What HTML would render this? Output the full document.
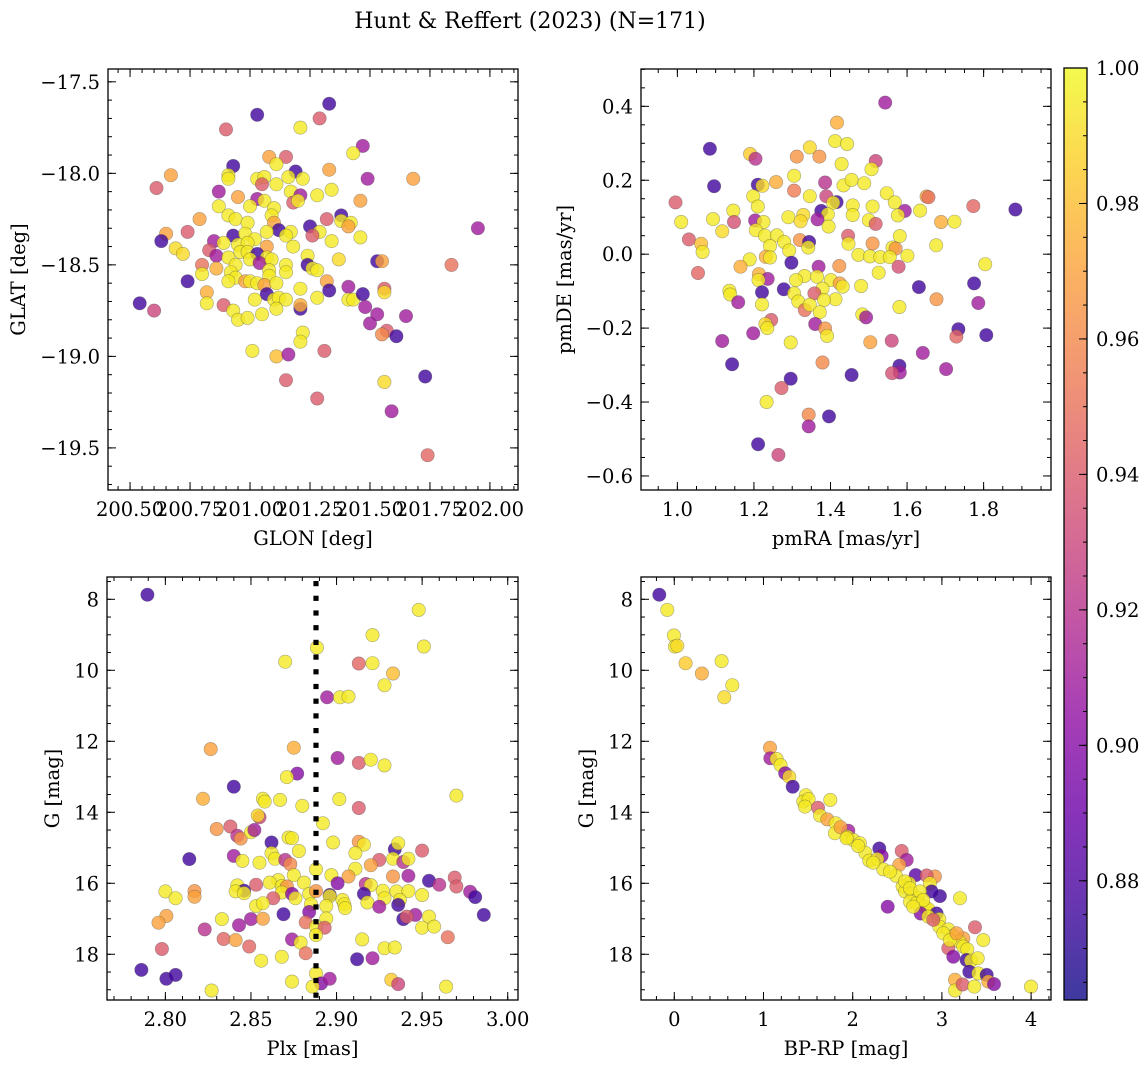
<!DOCTYPE html>
<html><head><meta charset="utf-8"><title>Hunt & Reffert (2023)</title>
<style>
html,body{margin:0;padding:0;background:#fff;}
svg{display:block;font-family:"DejaVu Serif","Liberation Serif",serif;}
</style></head>
<body>
<svg id="fig" width="1148" height="1067" viewBox="0 0 1148 1067" xmlns="http://www.w3.org/2000/svg">
<defs>
<linearGradient id="plasma" x1="0" y1="1" x2="0" y2="0">
<stop offset="0" stop-color="#0d0887"/><stop offset="0.1" stop-color="#41049d"/><stop offset="0.2" stop-color="#6a00a8"/><stop offset="0.3" stop-color="#8f0da4"/><stop offset="0.4" stop-color="#b12a90"/><stop offset="0.5" stop-color="#cc4778"/><stop offset="0.6" stop-color="#e16462"/><stop offset="0.7" stop-color="#f2844b"/><stop offset="0.8" stop-color="#fca636"/><stop offset="0.9" stop-color="#fcce25"/><stop offset="1" stop-color="#f0f921"/>
</linearGradient>
</defs>
<text x="530" y="28" text-anchor="middle" font-size="22">Hunt &amp; Reffert (2023) (N=171)</text>
</svg>
<script>
// ---- data ----
const tlGlon=[201.33,201.03,201.29,200.90,201.21,201.47,201.43,201.08,201.15,201.11,200.93,201.33,200.67,201.19,200.91,200.91,201.03,201.06,201.16,201.22,201.49,201.68,200.61,200.87,201.05,201.11,201.34,201.17,200.95,201.28,201.21,201.46,201.03,200.87,201.00,201.06,201.10,201.18,201.20,200.91,200.79,201.32,201.38,200.94,201.09,201.10,201.38,201.42,201.41,200.99,201.25,201.95,200.74,200.65,200.63,200.93,200.98,201.12,201.17,201.29,201.26,201.46,200.85,201.07,201.02,201.15,201.34,200.89,200.69,200.72,200.83,200.86,200.95,200.99,201.07,201.18,200.96,200.99,201.03,201.07,201.24,201.37,201.53,201.55,201.84,200.80,200.86,200.91,200.94,201.00,201.04,201.09,201.15,201.24,201.26,201.28,200.80,200.92,200.94,201.08,201.08,201.15,200.98,201.00,201.03,201.06,201.11,201.32,200.91,200.74,200.82,200.82,201.33,201.41,201.56,201.56,201.21,201.07,201.02,201.10,201.12,201.15,201.28,201.41,201.43,201.47,200.54,200.60,200.89,201.21,201.21,201.48,200.93,200.95,200.99,201.05,201.11,201.53,201.65,201.50,201.57,201.55,201.61,201.22,201.21,201.01,201.31,201.11,201.16,201.15,201.56,201.73,201.28,201.59,201.74];
const tlGlat=[-17.62,-17.68,-17.70,-17.76,-17.75,-17.85,-17.89,-17.91,-17.91,-17.95,-17.96,-17.98,-18.01,-17.99,-18.01,-18.03,-18.03,-18.02,-18.02,-18.03,-18.03,-18.03,-18.08,-18.10,-18.06,-18.06,-18.09,-18.10,-18.13,-18.12,-18.12,-18.15,-18.14,-18.18,-18.18,-18.15,-18.19,-18.16,-18.15,-18.23,-18.25,-18.25,-18.23,-18.25,-18.23,-18.27,-18.26,-18.27,-18.29,-18.27,-18.29,-18.30,-18.32,-18.33,-18.37,-18.34,-18.33,-18.31,-18.32,-18.32,-18.34,-18.35,-18.37,-18.32,-18.36,-18.34,-18.37,-18.38,-18.41,-18.44,-18.42,-18.45,-18.39,-18.38,-18.40,-18.40,-18.43,-18.43,-18.44,-18.46,-18.45,-18.47,-18.48,-18.48,-18.50,-18.50,-18.52,-18.46,-18.50,-18.47,-18.49,-18.47,-18.50,-18.50,-18.52,-18.53,-18.55,-18.54,-18.57,-18.53,-18.56,-18.54,-18.59,-18.59,-18.60,-18.61,-18.60,-18.59,-18.59,-18.59,-18.65,-18.71,-18.64,-18.62,-18.63,-18.65,-18.63,-18.66,-18.69,-18.69,-18.68,-18.69,-18.68,-18.69,-18.69,-18.66,-18.71,-18.75,-18.72,-18.74,-18.72,-18.73,-18.75,-18.80,-18.79,-18.77,-18.74,-18.77,-18.78,-18.82,-18.86,-18.88,-18.89,-18.87,-18.92,-18.97,-18.97,-19.00,-18.99,-19.13,-19.14,-19.11,-19.23,-19.30,-19.54];
const tlProb=[0.876,0.876,0.94,0.94,0.995,0.91,0.995,0.97,0.94,0.995,0.876,0.97,0.97,0.876,0.995,0.995,0.995,0.995,0.995,0.995,0.91,0.97,0.94,0.91,0.94,0.995,0.995,0.995,0.97,0.995,0.91,0.97,0.91,0.995,0.995,0.995,0.995,0.94,0.995,0.995,0.97,0.94,0.876,0.995,0.995,0.97,0.995,0.995,0.97,0.995,0.876,0.91,0.94,0.97,0.876,0.876,0.995,0.876,0.995,0.995,0.94,0.995,0.91,0.995,0.995,0.995,0.995,0.995,0.99,0.99,0.94,0.91,0.995,0.995,0.97,0.995,0.995,0.995,0.876,0.995,0.995,0.99,0.876,0.97,0.95,0.95,0.975,0.995,0.995,0.995,0.91,0.995,0.995,0.876,0.995,0.995,0.995,0.995,0.995,0.995,0.995,0.995,0.97,0.995,0.995,0.97,0.995,0.97,0.995,0.876,0.975,0.995,0.876,0.91,0.94,0.99,0.995,0.876,0.995,0.995,0.995,0.995,0.995,0.995,0.995,0.876,0.876,0.93,0.94,0.876,0.975,0.91,0.995,0.995,0.995,0.995,0.995,0.91,0.91,0.91,0.94,0.96,0.876,0.995,0.995,0.995,0.94,0.98,0.91,0.94,0.99,0.876,0.94,0.91,0.945];
const trPmra=[1.543,1.417,1.085,1.190,1.204,1.412,1.443,1.346,1.312,1.371,1.429,1.518,1.507,1.305,1.258,1.210,1.222,1.096,1.386,1.434,1.455,1.488,1.305,1.547,1.198,1.346,1.389,1.651,1.656,0.995,1.416,1.407,1.568,1.773,1.883,1.210,1.458,1.510,1.146,1.376,1.594,1.634,1.329,1.393,1.458,1.576,1.093,1.290,1.366,1.010,1.148,1.203,1.225,1.322,1.395,1.500,1.518,1.689,1.724,1.117,1.205,1.229,1.260,1.446,1.581,1.030,1.320,1.344,1.279,1.447,1.562,1.510,1.676,1.062,1.066,1.242,1.342,1.570,1.292,1.473,1.503,1.530,1.555,1.601,1.231,1.242,1.189,1.298,1.804,1.165,1.423,1.369,1.578,1.054,1.526,1.213,1.332,1.365,1.236,1.212,1.310,1.401,1.424,1.775,1.631,1.432,1.379,1.278,1.136,1.480,1.221,1.305,1.358,1.413,1.138,1.383,1.316,1.677,1.159,1.786,1.333,1.346,1.221,1.580,1.372,1.483,1.493,1.245,1.230,1.235,1.360,1.386,1.391,1.734,1.729,1.807,1.198,1.117,1.296,1.504,1.560,1.641,1.143,1.379,1.580,1.581,1.561,1.702,1.455,1.296,1.272,1.233,1.343,1.396,1.343,1.211,1.264];
const trPmde=[0.410,0.356,0.285,0.271,0.258,0.306,0.298,0.289,0.264,0.264,0.244,0.252,0.230,0.212,0.195,0.188,0.185,0.184,0.194,0.186,0.201,0.192,0.172,0.165,0.157,0.157,0.157,0.156,0.154,0.140,0.141,0.139,0.140,0.130,0.121,0.129,0.132,0.129,0.118,0.117,0.117,0.118,0.106,0.108,0.106,0.105,0.095,0.100,0.094,0.087,0.087,0.091,0.087,0.089,0.075,0.092,0.082,0.087,0.088,0.062,0.065,0.050,0.051,0.050,0.049,0.040,0.038,0.033,0.033,0.028,0.018,0.029,0.024,0.028,0.006,0.022,0.018,0.015,0.010,-0.002,-0.006,-0.008,-0.008,-0.004,-0.007,-0.009,-0.014,-0.023,-0.027,-0.034,-0.032,-0.034,-0.034,-0.051,-0.050,-0.054,-0.059,-0.061,-0.067,-0.070,-0.070,-0.070,-0.079,-0.079,-0.089,-0.088,-0.093,-0.095,-0.099,-0.086,-0.103,-0.106,-0.106,-0.122,-0.109,-0.124,-0.128,-0.122,-0.130,-0.132,-0.151,-0.137,-0.136,-0.143,-0.157,-0.163,-0.171,-0.178,-0.189,-0.200,-0.189,-0.201,-0.221,-0.203,-0.223,-0.219,-0.214,-0.235,-0.239,-0.238,-0.234,-0.267,-0.298,-0.293,-0.302,-0.320,-0.322,-0.311,-0.327,-0.337,-0.362,-0.400,-0.434,-0.439,-0.466,-0.514,-0.543];
const trProb=[0.91,0.975,0.876,0.985,0.92,0.995,0.995,0.99,0.965,0.965,0.995,0.93,0.995,0.995,0.975,0.876,0.99,0.876,0.92,0.995,0.995,0.995,0.955,0.995,0.995,0.995,0.93,0.97,0.95,0.94,0.876,0.995,0.995,0.945,0.876,0.995,0.995,0.995,0.995,0.876,0.91,0.995,0.99,0.995,0.995,0.995,0.995,0.995,0.91,0.995,0.935,0.91,0.995,0.99,0.995,0.995,0.94,0.975,0.995,0.99,0.995,0.995,0.995,0.94,0.995,0.94,0.965,0.876,0.995,0.995,0.995,0.965,0.995,0.98,0.995,0.995,0.995,0.965,0.995,0.995,0.995,0.995,0.995,0.995,0.975,0.995,0.995,0.876,0.995,0.975,0.965,0.91,0.935,0.945,0.995,0.975,0.995,0.995,0.91,0.995,0.995,0.995,0.97,0.876,0.876,0.995,0.995,0.876,0.995,0.995,0.876,0.995,0.94,0.995,0.995,0.995,0.995,0.965,0.91,0.91,0.95,0.995,0.995,0.995,0.995,0.995,0.91,0.94,0.99,0.995,0.91,0.965,0.995,0.876,0.945,0.876,0.91,0.91,0.995,0.97,0.93,0.91,0.876,0.96,0.876,0.91,0.935,0.91,0.876,0.876,0.94,0.995,0.96,0.876,0.91,0.876,0.93];
const blPlx=[2.7895,2.948,2.921,2.8885,2.951,2.870,2.913,2.921,2.933,2.928,2.8945,2.902,2.907,2.8265,2.875,2.9006,2.913,2.920,2.928,2.877,2.871,2.840,2.970,2.822,2.857,2.858,2.867,2.9016,2.880,2.913,2.855,2.854,2.892,2.830,2.838,2.842,2.844,2.850,2.852,2.872,2.874,2.862,2.898,2.913,2.916,2.934,2.936,2.950,2.878,2.814,2.840,2.845,2.862,2.864,2.870,2.855,2.873,2.888,2.911,2.925,2.933,2.939,2.942,2.911,2.920,2.875,2.907,2.897,2.933,2.942,2.866,2.881,2.861,2.9006,2.954,2.969,2.960,2.970,2.917,2.920,2.853,2.842,2.846,2.841,2.846,2.868,2.871,2.800,2.817,2.817,2.806,2.868,2.874,2.876,2.884,2.888,2.896,2.896,2.916,2.927,2.928,2.935,2.942,2.937,2.950,2.978,2.981,2.9035,2.9045,2.905,2.863,2.853,2.857,2.885,2.894,2.918,2.925,2.936,2.986,2.869,2.884,2.946,2.939,2.941,2.954,2.8006,2.796,2.833,2.850,2.857,2.894,2.843,2.882,2.888,2.893,2.823,2.950,2.957,2.834,2.841,2.874,2.879,2.888,2.915,2.965,2.798,2.849,2.882,2.928,2.934,2.868,2.856,2.912,2.921,2.786,2.8006,2.806,2.888,2.874,2.891,2.896,2.886,2.932,2.936,2.964,2.827];
const blG=[7.87,8.30,9.01,9.36,9.33,9.76,9.81,9.80,10.09,10.42,10.76,10.76,10.74,12.22,12.18,12.47,12.61,12.52,12.68,12.91,13.01,13.28,13.53,13.62,13.62,13.70,13.65,13.63,13.82,13.88,14.14,14.09,14.31,14.47,14.40,14.66,14.74,14.56,14.50,14.71,14.73,14.85,14.85,14.83,14.91,15.04,14.87,15.08,15.09,15.32,15.23,15.37,15.15,15.31,15.34,15.42,15.46,15.61,15.15,15.34,15.31,15.40,15.31,15.59,15.49,15.77,15.81,15.77,15.81,15.79,15.91,15.98,15.98,16.00,15.93,15.84,16.04,16.09,16.02,16.05,16.04,16.06,16.21,16.23,16.28,16.08,16.09,16.23,16.22,16.38,16.42,16.26,16.30,16.42,16.30,16.22,16.33,16.36,16.30,16.21,16.42,16.23,16.22,16.47,16.33,16.24,16.39,16.47,16.59,16.70,16.42,16.64,16.56,16.59,16.64,16.54,16.66,16.61,16.89,16.87,16.81,16.89,17.01,16.94,16.94,16.92,17.11,17.01,17.01,17.00,16.99,17.18,17.10,17.22,17.25,17.30,17.25,17.22,17.57,17.60,17.58,17.67,17.46,17.58,17.52,17.85,17.78,17.97,17.83,17.81,18.07,18.18,18.14,18.11,18.44,18.69,18.58,18.54,18.77,18.82,18.69,18.91,18.72,18.84,18.91,19.02];
const blProb=[0.876,0.995,0.995,0.995,0.995,0.995,0.945,0.995,0.98,0.995,0.91,0.995,0.995,0.97,0.975,0.91,0.94,0.995,0.995,0.9,0.995,0.876,0.995,0.975,0.995,0.995,0.995,0.995,0.995,0.94,0.93,0.99,0.995,0.965,0.94,0.92,0.965,0.995,0.91,0.995,0.995,0.876,0.995,0.965,0.995,0.876,0.995,0.94,0.995,0.876,0.91,0.995,0.995,0.995,0.92,0.995,0.96,0.995,0.995,0.94,0.995,0.92,0.995,0.995,0.97,0.995,0.97,0.995,0.965,0.91,0.995,0.995,0.995,0.9,0.876,0.94,0.92,0.94,0.92,0.995,0.94,0.995,0.876,0.995,0.995,0.995,0.965,0.995,0.965,0.97,0.995,0.995,0.9,0.995,0.995,0.965,0.876,0.995,0.876,0.995,0.995,0.995,0.995,0.995,0.995,0.91,0.876,0.995,0.995,0.995,0.94,0.995,0.995,0.995,0.995,0.995,0.91,0.876,0.876,0.876,0.9,0.91,0.876,0.94,0.995,0.97,0.97,0.995,0.91,0.97,0.995,0.91,0.95,0.995,0.94,0.92,0.995,0.995,0.945,0.97,0.91,0.995,0.995,0.995,0.95,0.94,0.945,0.95,0.995,0.995,0.995,0.995,0.876,0.91,0.876,0.876,0.876,0.995,0.995,0.9,0.91,0.995,0.985,0.93,0.995,0.995];
const brBprp=[-0.168,-0.078,-0.004,0.007,0.034,0.127,0.310,0.531,0.650,0.561,1.073,1.076,1.147,1.192,1.244,1.289,1.327,1.476,1.446,1.506,1.465,1.749,1.611,1.633,1.715,1.809,1.801,1.951,1.865,1.943,2.007,2.081,2.141,2.298,2.324,2.186,2.276,2.343,2.549,2.605,2.522,2.485,2.706,2.922,2.829,2.866,2.634,2.560,2.978,3.203,2.392,2.586,2.672,2.735,2.642,2.717,2.810,2.885,2.848,2.762,2.941,2.848,2.971,2.971,3.072,3.371,3.128,3.240,3.195,3.464,3.072,3.128,3.240,3.285,3.277,3.326,3.401,3.307,3.408,3.502,3.520,3.584,3.147,3.147,3.232,3.363,3.999,2.418,2.586,2.642,2.754,2.791,2.679,3.016,3.090,3.165,2.231,2.062,1.932,2.904];
const brG=[7.87,8.30,9.02,9.33,9.31,9.80,10.09,9.74,10.42,10.76,12.18,12.48,12.50,12.67,12.90,13.00,13.28,13.52,13.70,13.63,13.84,13.65,13.87,14.09,14.20,14.31,14.59,14.52,14.42,14.69,14.78,14.87,15.14,15.02,15.23,15.36,15.32,15.61,15.09,15.34,15.48,15.79,15.77,15.81,15.78,16.00,16.00,16.09,16.36,16.42,16.66,16.23,16.30,16.42,16.52,16.56,16.66,16.23,16.73,16.85,16.85,16.94,17.01,17.22,17.30,17.24,17.48,17.55,17.64,17.60,17.83,18.07,17.78,17.86,18.16,18.18,18.11,18.49,18.54,18.58,18.77,18.84,18.72,19.02,18.85,18.91,18.91,15.67,15.95,16.14,16.23,16.47,16.66,17.41,17.60,17.41,15.42,14.95,14.73,17.03];
const brProb=[0.876,0.995,0.995,0.995,0.99,0.985,0.975,0.995,0.995,0.99,0.97,0.91,0.995,0.995,0.9,0.99,0.876,0.995,0.995,0.995,0.995,0.995,0.94,0.995,0.97,0.995,0.995,0.91,0.97,0.995,0.995,0.995,0.995,0.876,0.9,0.995,0.995,0.995,0.94,0.91,0.97,0.995,0.885,0.965,0.94,0.995,0.995,0.995,0.876,0.995,0.9,0.995,0.995,0.995,0.995,0.995,0.995,0.876,0.995,0.9,0.876,0.995,0.995,0.995,0.995,0.94,0.995,0.97,0.995,0.995,0.94,0.9,0.995,0.995,0.876,0.995,0.995,0.876,0.995,0.876,0.975,0.9,0.975,0.995,0.94,0.995,0.995,0.995,0.995,0.995,0.995,0.995,0.995,0.995,0.995,0.97,0.995,0.995,0.995,0.94];
const plxLine=[2.888];
const tlXTicks=[200.50,200.75,201.00,201.25,201.50,201.75,202.00];
const tlYTicks=[-17.5,-18.0,-18.5,-19.0,-19.5];
const trXTicks=[1.0,1.2,1.4,1.6,1.8];
const trYTicks=[0.4,0.2,0.0,-0.2,-0.4,-0.6];
const blXTicks=[2.80,2.85,2.90,2.95,3.00];
const gTicks=[8,10,12,14,16,18];
const brXTicks=[0,1,2,3,4];
const cbTicks=[1.00,0.98,0.96,0.94,0.92,0.90,0.88];
const probMin=0.8624, probMax=1.0;

// ---- helpers ----
const NS="http://www.w3.org/2000/svg";
const svg=document.getElementById('fig');
const FS=19.5;
function mk(tag,attrs,parent){const e=document.createElementNS(NS,tag);for(const k in attrs)e.setAttribute(k,String(attrs[k]));(parent||svg).appendChild(e);return e;}
const stops=[[13,8,135],[65,4,157],[106,0,168],[143,13,164],[177,42,144],[204,71,120],[225,100,98],[242,132,75],[252,166,54],[252,206,37],[240,249,33]];
function plasma(p){let t=(p-probMin)/(probMax-probMin);t=Math.max(0,Math.min(1,t));const f=t*10,i=Math.min(9,Math.floor(f)),r=f-i;const a=stops[i],b=stops[i+1];return 'rgb('+[0,1,2].map(k=>Math.round(a[k]+(b[k]-a[k])*r)).join(',')+')';}
function fmt(v,d){const s=Math.abs(v).toFixed(d);return (v<0?'\u2212':'')+s;}
function minorRange(lo,hi,step){const out=[];const s=Math.ceil(lo/step-1e-9);for(let k=s;k*step<=hi+1e-9;k++)out.push(k*step);return out;}

function panel(cfg){
  const g=mk('g',{});
  
  
  const X=v=>cfg.x0+(v-cfg.xlim[0])/(cfg.xlim[1]-cfg.xlim[0])*(cfg.x1-cfg.x0);
  const Y=cfg.yinv? v=>cfg.y0+(v-cfg.ylim[0])/(cfg.ylim[1]-cfg.ylim[0])*(cfg.y1-cfg.y0)
                  : v=>cfg.y1-(v-cfg.ylim[0])/(cfg.ylim[1]-cfg.ylim[0])*(cfg.y1-cfg.y0);
  const pts=mk('g',{},g);
  
  
  for(let i=0;i<cfg.xs.length;i++){
    const c=mk('circle',{cx:X(cfg.xs[i]).toFixed(1),cy:Y(cfg.ys[i]).toFixed(1),r:6.7,fill:plasma(cfg.c[i]),'fill-opacity':0.8,stroke:'rgba(70,70,70,0.45)','stroke-width':0.6},pts);
    
    
  }
  if(cfg.vline){for(const v of cfg.vline){
    const lg=mk('g',{fill:'#000'},g);
    
    
    const xc=X(v);
    for(let y=cfg.y0+4;y<cfg.y1-1;y+=14.7){
      mk('rect',{x:(xc-2.6).toFixed(1),y:y.toFixed(1),width:5.2,height:Math.min(5.2,cfg.y1-y).toFixed(1)},lg);
    }
  }}
  const fr=mk('rect',{x:cfg.x0,y:cfg.y0,width:cfg.x1-cfg.x0,height:cfg.y1-cfg.y0,fill:'none',stroke:'#000','stroke-width':1.3},g);
  
  
  const tk=mk('g',{stroke:'#000','stroke-width':1},g);
  
  
  for(const v of minorRange(Math.min(...cfg.xlim),Math.max(...cfg.xlim),cfg.xminor)){const x=X(v);mk('line',{x1:x,x2:x,y1:cfg.y1,y2:cfg.y1-4},tk);mk('line',{x1:x,x2:x,y1:cfg.y0,y2:cfg.y0+4},tk);}
  for(const v of minorRange(Math.min(...cfg.ylim),Math.max(...cfg.ylim),cfg.yminor)){const y=Y(v);mk('line',{x1:cfg.x0,x2:cfg.x0+4,y1:y,y2:y},tk);mk('line',{x1:cfg.x1,x2:cfg.x1-4,y1:y,y2:y},tk);}
  for(const v of cfg.xt){const x=X(v);mk('line',{x1:x,x2:x,y1:cfg.y1,y2:cfg.y1-8},tk);mk('line',{x1:x,x2:x,y1:cfg.y0,y2:cfg.y0+8},tk);
    const t=mk('text',{x:x,y:cfg.y1+26,'text-anchor':'middle','font-size':FS},g);t.textContent=fmt(v,cfg.xd);
    
    }
  for(const v of cfg.yt){const y=Y(v);mk('line',{x1:cfg.x0,x2:cfg.x0+8,y1:y,y2:y},tk);mk('line',{x1:cfg.x1,x2:cfg.x1-8,y1:y,y2:y},tk);
    const t=mk('text',{x:cfg.x0-8,y:y+7,'text-anchor':'end','font-size':FS},g);t.textContent=fmt(v,cfg.yd);
    
    }
  const xl=mk('text',{x:(cfg.x0+cfg.x1)/2,y:cfg.y1+55,'text-anchor':'middle','font-size':FS},g);xl.textContent=cfg.xlabel;
  
  
  const yc=(cfg.y0+cfg.y1)/2;
  const yl=mk('text',{x:cfg.ylx,y:yc,'text-anchor':'middle','font-size':FS,transform:'rotate(-90 '+cfg.ylx+' '+yc+')'},g);yl.textContent=cfg.ylabel;
  
  
}

panel({name:'glon-glat-panel',x0:108,x1:518,y0:69,y1:490,xlim:[200.408,202.117],ylim:[-19.73,-17.43],xs:tlGlon,ys:tlGlat,c:tlProb,xt:tlXTicks,yt:tlYTicks,xd:2,yd:1,xminor:0.05,yminor:0.1,xlabel:'GLON [deg]',ylabel:'GLAT [deg]',ylx:25});
panel({name:'proper-motion-panel',x0:641,x1:1051,y0:69,y1:490,xlim:[0.905,1.976],ylim:[-0.638,0.501],xs:trPmra,ys:trPmde,c:trProb,xt:trXTicks,yt:trYTicks,xd:1,yd:1,xminor:0.05,yminor:0.05,xlabel:'pmRA [mas/yr]',ylabel:'pmDE [mas/yr]',ylx:571});
panel({name:'parallax-magnitude-panel',x0:107,x1:518,y0:577,y1:1000,xlim:[2.7659,3.006],ylim:[7.372,19.288],yinv:true,xs:blPlx,ys:blG,c:blProb,xt:blXTicks,yt:gTicks,xd:2,yd:0,xminor:0.01,yminor:0.5,xlabel:'Plx [mas]',ylabel:'G [mag]',ylx:59,vline:plxLine});
panel({name:'color-magnitude-panel',x0:641,x1:1051,y0:577,y1:1000,xlim:[-0.373,4.223],ylim:[7.372,19.288],yinv:true,xs:brBprp,ys:brG,c:brProb,xt:brXTicks,yt:gTicks,xd:0,yd:0,xminor:0.2,yminor:0.5,xlabel:'BP-RP [mag]',ylabel:'G [mag]',ylx:593});

// colorbar
(function(){
  const x0=1064,x1=1087,y0=68,y1=1000;
  const g=mk('g',{});
  
  
  mk('rect',{x:x0,y:y0,width:x1-x0,height:y1-y0,fill:'url(#plasma)','fill-opacity':0.8},g);
  mk('rect',{x:x0,y:y0,width:x1-x0,height:y1-y0,fill:'none',stroke:'#000','stroke-width':1.3},g);
  const Y=v=>y1-(v-probMin)/(probMax-probMin)*(y1-y0);
  for(const v of minorRange(probMin,probMax,0.005)){const y=Y(v);mk('line',{x1:x1,x2:x1-4,y1:y,y2:y,stroke:'#000'},g);}
  for(const v of cbTicks){const y=Y(v);mk('line',{x1:x1,x2:x1-8,y1:y,y2:y,stroke:'#000'},g);
    const t=mk('text',{x:x1+9,y:y+7,'font-size':FS},g);t.textContent=v.toFixed(2);
    
    }
})();
</script>
</body></html>
